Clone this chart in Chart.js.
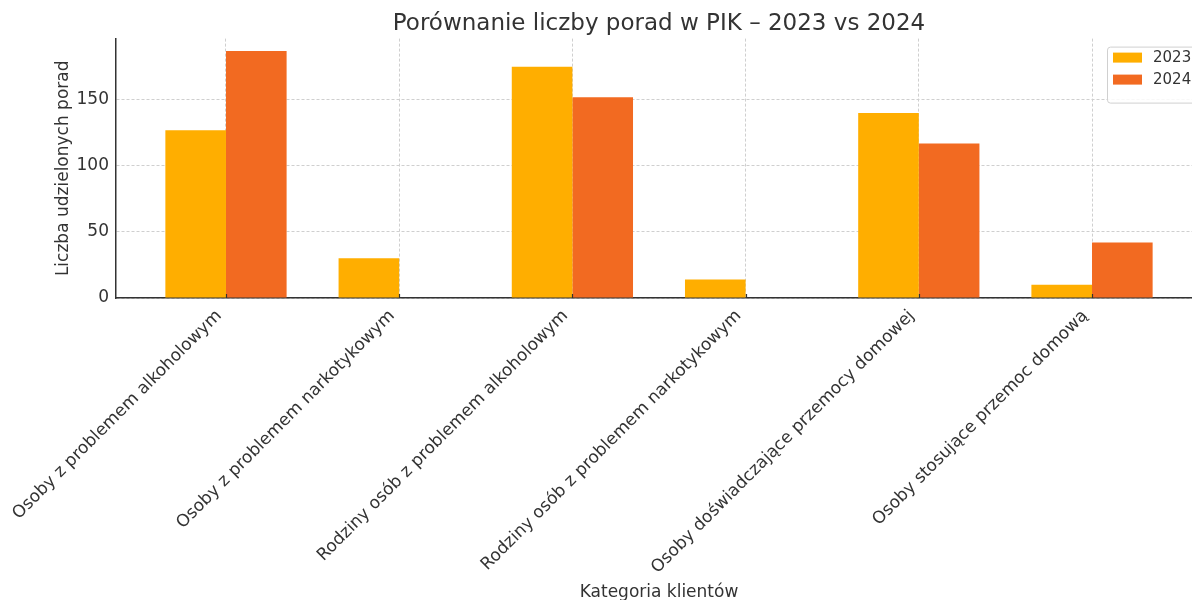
<!DOCTYPE html>
<html>
<head>
<meta charset="utf-8">
<script src="https://cdn.jsdelivr.net/npm/chart.js@4"></script>
<style>
html,body{margin:0;padding:0;background:#fff;overflow:hidden}
#wrap{width:1260px;height:600px}
</style>
</head>
<body>
<div id="wrap"><canvas id="c" width="1260" height="600"></canvas></div>
<script>
const categories = [
  'Osoby z problemem alkoholowym',
  'Osoby z problemem narkotykowym',
  'Rodziny osób z problemem alkoholowym',
  'Rodziny osób z problemem narkotykowym',
  'Osoby doświadczające przemocy domowej',
  'Osoby stosujące przemoc domową'
]
const years = ['2023','2024']
const values2023 = [127, 30, 175, 14, 140, 10]
const values2024 = [187, 0, 152, 0, 117, 42]
const yTicks = [0, 50, 100, 150]
const colors = ['#ffae00','#f26a21']
const font = 'DejaVu Sans'
const ink = '#333'

// legend drawn inside the plot, upper right, like matplotlib
const boxLegend = {
  id:'boxLegend',
  afterDraw(chart){
    const {ctx, chartArea} = chart
    const w=88, h=56, x=chartArea.right-95, y=chartArea.top+8
    ctx.save()
    ctx.fillStyle='rgba(255,255,255,0.85)';ctx.strokeStyle='#d0d0d0';ctx.lineWidth=1
    ctx.beginPath();ctx.roundRect(x+0.5,y+0.5,w,h,3);ctx.fill();ctx.stroke()
    ctx.font=`15px "${font}"`;ctx.textBaseline='middle';ctx.fillStyle=ink
    chart.data.datasets.forEach((ds,i)=>{
      const cy=y+11+i*22
      ctx.fillStyle=ds.backgroundColor;ctx.fillRect(x+6,cy-5,29,10)
      ctx.fillStyle=ink;ctx.fillText(ds.label,x+46,cy+1)
    })
    ctx.restore()
  }
}
// short inward tick marks on the x axis
const inTicks = {
  id:'inTicks',
  afterDatasetsDraw(chart){
    const {ctx} = chart, sx=chart.scales.x, b=chart.chartArea.bottom
    ctx.save();ctx.strokeStyle=ink;ctx.lineWidth=1.2
    sx.ticks.forEach(t=>{const px=Math.round(sx.getPixelForValue(t.value))+0.5;ctx.beginPath();ctx.moveTo(px,b);ctx.lineTo(px,b-4);ctx.stroke()})
    ctx.restore()
  }
}

new Chart(document.getElementById('c'),{
  type:'bar',
  data:{datasets:[
    {label:years[0],data:categories.map((c,i)=>({x:i,y:values2023[i]})),backgroundColor:colors[0],categoryPercentage:0.7,barPercentage:1},
    {label:years[1],data:categories.map((c,i)=>({x:i,y:values2024[i]})),backgroundColor:colors[1],categoryPercentage:0.7,barPercentage:1}
  ]},
  options:{
    responsive:false,animation:false,
    layout:{padding:{left:0,right:58,top:0,bottom:0}},
    plugins:{
      legend:{display:false},tooltip:{enabled:false},
      title:{display:true,fullSize:false,text:'Porównanie liczby porad w PIK – 2023 vs 2024',color:ink,
        font:{family:font,size:23,weight:'normal'},padding:{top:10,bottom:1}}
    },
    scales:{
      x:{type:'linear',min:-0.635,max:5.635,offset:false,
        afterBuildTicks:s=>{s.ticks=categories.map((c,i)=>({value:i}))},
        afterFit:s=>{s.height=302},
        ticks:{autoSkip:false,minRotation:45,maxRotation:45,padding:8,labelOffset:-7,color:ink,font:{family:font,size:17},
          callback:v=>categories[v]},
        grid:{offset:false,color:'#cfcfcf',drawTicks:false},
        border:{color:ink,width:1.5,dash:[3,2]},
        title:{display:true,text:'Kategoria klientów',color:ink,font:{family:font,size:17},padding:{top:4,bottom:-3}}
      },
      y:{min:0,max:196.35,
        afterBuildTicks:s=>{s.ticks=yTicks.map(v=>({value:v}))},
        afterFit:s=>{s.width=116},
        ticks:{padding:7,color:ink,font:{family:font,size:17}},
        grid:{color:'#cfcfcf',drawTicks:false},
        border:{color:ink,width:1.5,dash:[3,2]},
        title:{display:true,text:'Liczba udzielonych porad',color:ink,font:{family:font,size:17},padding:{top:53,bottom:0}}
      }
    }
  },
  plugins:[boxLegend,inTicks]
})
</script>
</body>
</html>
